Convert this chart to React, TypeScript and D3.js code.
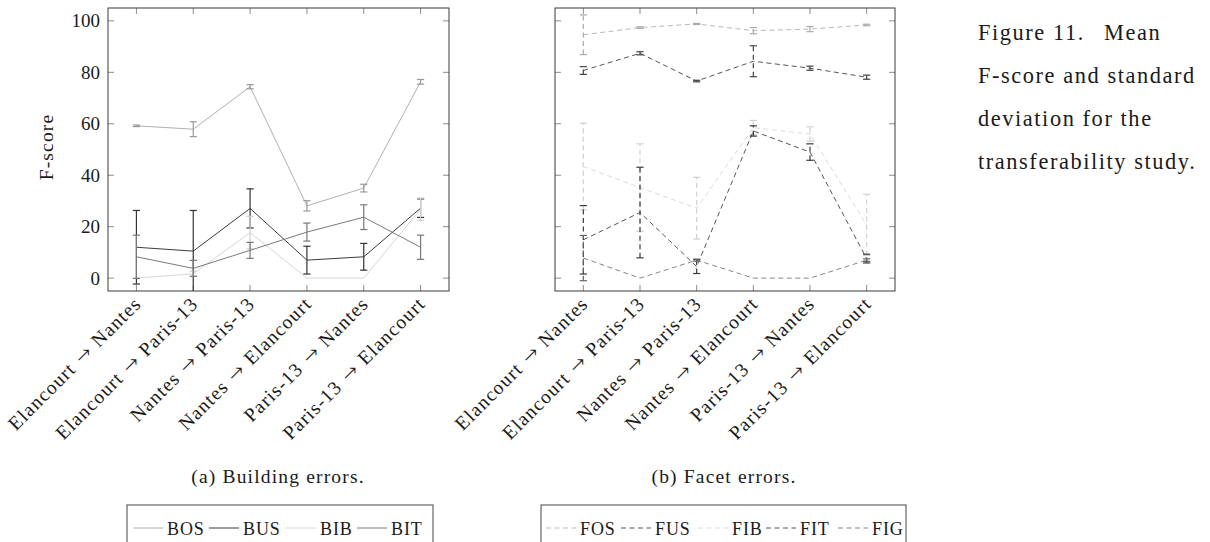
import React from "react";
import * as d3 from "d3";

const categories = [
  "Elancourt → Nantes",
  "Elancourt → Paris-13",
  "Nantes → Paris-13",
  "Nantes → Elancourt",
  "Paris-13 → Nantes",
  "Paris-13 → Elancourt",
];
const yTicks = [0, 20, 40, 60, 80, 100];

// Building errors (mean F-score, standard deviation)
const BOS = [59.2, 57.9, 74.4, 28.1, 35.0, 76.3];
const BOSerr = [0.3, 2.9, 0.8, 2.0, 1.5, 0.9];
const BUS = [12.0, 10.5, 27.1, 7.0, 8.3, 27.2];
const BUSerr = [14.3, 15.8, 7.6, 5.4, 5.2, 3.6];
const BIB = [0, 1.7, 17.7, 0, 0, 26.8];
const BIBerr = [0, 1.0, 6.3, 0, 0, 4.3];
const BIT = [8.3, 3.8, 10.8, 17.9, 23.7, 12.0];
const BITerr = [8.4, 3.1, 3.1, 3.5, 4.8, 4.7];

// Facet errors
const FOS = [94.6, 97.4, 98.8, 96.2, 96.8, 98.4];
const FOSerr = [7.7, 0.3, 0.2, 1.2, 1.0, 0.3];
const FUS = [80.7, 87.4, 76.6, 84.3, 81.6, 78.1];
const FUSerr = [1.5, 0.6, 0.3, 6.0, 0.8, 0.8];
const FIB = [43.4, 35.2, 27.2, 58.5, 56.0, 20.7];
const FIBerr = [16.8, 17.0, 12.0, 2.8, 2.8, 11.9];
const FIT = [14.9, 25.5, 4.5, 57.2, 49.0, 7.6];
const FITerr = [13.3, 17.6, 2.7, 2.0, 3.2, 1.7];
const FIG = [7.8, 0, 7.0, 0, 0, 7.0];
const FIGerr = [8.8, 0, 0.4, 0, 0, 0.5];

const buildingSeries = [
  { name: "BOS", values: BOS, errs: BOSerr, color: "#b0b0b0", err: "#999999" },
  { name: "BUS", values: BUS, errs: BUSerr, color: "#3c3c3c", err: "#333333" },
  { name: "BIB", values: BIB, errs: BIBerr, color: "#d6d6d6", err: "#cfcfcf" },
  { name: "BIT", values: BIT, errs: BITerr, color: "#7a7a7a", err: "#777777" },
];
const facetSeries = [
  { name: "FOS", values: FOS, errs: FOSerr, color: "#b8b8b8", err: "#aaaaaa" },
  { name: "FUS", values: FUS, errs: FUSerr, color: "#555555", err: "#444444" },
  { name: "FIB", values: FIB, errs: FIBerr, color: "#dadada", err: "#d0d0d0" },
  { name: "FIT", values: FIT, errs: FITerr, color: "#555555", err: "#3a3a3a" },
  { name: "FIG", values: FIG, errs: FIGerr, color: "#858585", err: "#666666" },
];

const FONT = '"Liberation Serif"';
const ARROW_FONT = '"FreeSerif"';
const TOP = 8;
const BOTTOM = 291;
const y = d3.scaleLinear().domain([-5, 105]).range([BOTTOM, TOP]);
const DASH = "5,3.5";

type Series = { name: string; values: number[]; errs: number[]; color: string; err: string };

function Label({ text }: { text: string }) {
  const parts = text.split("→").map((p) => p.trim());
  return (
    <>
      <tspan>{parts[0]}</tspan>
      <tspan dx={3} style={{ fontFamily: ARROW_FONT, letterSpacing: "0" }}>{"\u00a0\u2192\u00a0"}</tspan>
      <tspan dx={3}>{parts[1]}</tspan>
    </>
  );
}

function Panel({ left, right, series, showY, dashed, id }: { left: number; right: number; series: Series[]; showY: boolean; dashed: boolean; id: string }) {
  const x = d3.scalePoint<string>().domain(categories).range([left, right]).padding(0.5);
  const line = d3
    .line<number>()
    .x((_, i) => x(categories[i]) as number)
    .y((d) => y(d));
  const tl = 6;
  return (
    <g>
      <defs>
        <clipPath id={id}>
          <rect x={left} y={TOP} width={right - left} height={BOTTOM - TOP} />
        </clipPath>
      </defs>
      {yTicks.map((t) => (
        <g key={"y" + t}>
          <line x1={left} x2={left + tl} y1={y(t)} y2={y(t)} stroke="#8c8c8c" strokeWidth={1} />
          <line x1={right - tl} x2={right} y1={y(t)} y2={y(t)} stroke="#8c8c8c" strokeWidth={1} />
          {showY && (
            <text x={left - 8} y={y(t)} textAnchor="end" dominantBaseline="central" style={{ fontFamily: FONT }} fontSize={19} fill="#1a1a1a">
              {t}
            </text>
          )}
        </g>
      ))}
      {categories.map((c) => (
        <g key={"x" + c}>
          <line x1={x(c)} x2={x(c)} y1={TOP} y2={TOP + tl} stroke="#8c8c8c" strokeWidth={1} />
          <line x1={x(c)} x2={x(c)} y1={BOTTOM - tl} y2={BOTTOM} stroke="#8c8c8c" strokeWidth={1} />
          <text
            transform={`translate(${(x(c) as number) + 1},${BOTTOM + 9}) rotate(-45)`}
            textAnchor="end"
            dominantBaseline="central"
            style={{ fontFamily: FONT, letterSpacing: "0.06em" }}
            fontSize={19.5}
            fill="#1a1a1a"
          >
            <Label text={c} />
          </text>
        </g>
      ))}
      <g clipPath={`url(#${id})`}>
        {series.map((s) => (
          <g key={s.name}>
            <path d={line(s.values) || ""} fill="none" stroke={s.color} strokeWidth={1} strokeDasharray={dashed ? DASH : undefined} />
            {s.values.map((v, i) => {
              const e = s.errs[i];
              if (!e) return null;
              const cx = x(categories[i]) as number;
              return (
                <g key={i} stroke={s.err} strokeWidth={1.2}>
                  <line x1={cx} x2={cx} y1={y(v - e)} y2={y(v + e)} strokeDasharray={dashed ? DASH : undefined} />
                  <line x1={cx - 3.6} x2={cx + 3.6} y1={y(v + e)} y2={y(v + e)} />
                  <line x1={cx - 3.6} x2={cx + 3.6} y1={y(v - e)} y2={y(v - e)} />
                </g>
              );
            })}
          </g>
        ))}
      </g>
      <rect x={left} y={TOP} width={right - left} height={BOTTOM - TOP} fill="none" stroke="#3a3a3a" strokeWidth={1} />
    </g>
  );
}

function Legend({ x0, x1, series, dashed, textStarts }: { x0: number; x1: number; series: Series[]; dashed: boolean; textStarts: number[] }) {
  return (
    <g>
      <rect x={x0} y={505} width={x1 - x0} height={60} fill="none" stroke="#444" strokeWidth={1} />
      {series.map((s, i) => (
        <g key={s.name}>
          <line x1={textStarts[i] - 34} x2={textStarts[i] - 4} y1={528} y2={528} stroke={s.color} strokeWidth={1} strokeDasharray={dashed ? DASH : undefined} />
          <text x={textStarts[i]} y={534.5} style={{ fontFamily: FONT, letterSpacing: "0.05em" }} fontSize={18} fill="#1a1a1a">
            {s.name}
          </text>
        </g>
      ))}
    </g>
  );
}

export default function App() {
  return (
    <svg width={1210} height={542} style={{ position: "absolute", left: 0, top: 0, background: "#fff" }}>
      <rect x={0} y={0} width={1210} height={542} fill="#fff" />
      <Panel left={108} right={449} series={buildingSeries} showY={true} dashed={false} id="clipA" />
      <Panel left={555} right={895} series={facetSeries} showY={false} dashed={true} id="clipB" />
      <text transform="translate(53,147) rotate(-90)" textAnchor="middle" style={{ fontFamily: FONT, letterSpacing: "0.06em" }} fontSize={19.5} fill="#1a1a1a">
        F-score
      </text>
      <text x={278} y={483} textAnchor="middle" style={{ fontFamily: FONT, letterSpacing: "0.06em" }} fontSize={19.5} fill="#1a1a1a">
        (a) Building errors.
      </text>
      <text x={724} y={483} textAnchor="middle" style={{ fontFamily: FONT, letterSpacing: "0.06em" }} fontSize={19.5} fill="#1a1a1a">
        (b) Facet errors.
      </text>
      <Legend x0={127} x1={433} series={buildingSeries} dashed={false} textStarts={[167, 243, 320, 391]} />
      <Legend x0={541} x1={906} series={facetSeries} dashed={true} textStarts={[580, 655, 732, 800, 872]} />
      <g style={{ fontFamily: FONT, letterSpacing: "0.07em" }} fontSize={22.4} fill="#1a1a1a">
        <text x={978} y={40}>Figure 11.</text>
        <text x={1104} y={40}>Mean</text>
        <text x={978} y={83}>F-score and standard</text>
        <text x={978} y={126}>deviation for the</text>
        <text x={978} y={169}>transferability study.</text>
      </g>
    </svg>
  );
}
